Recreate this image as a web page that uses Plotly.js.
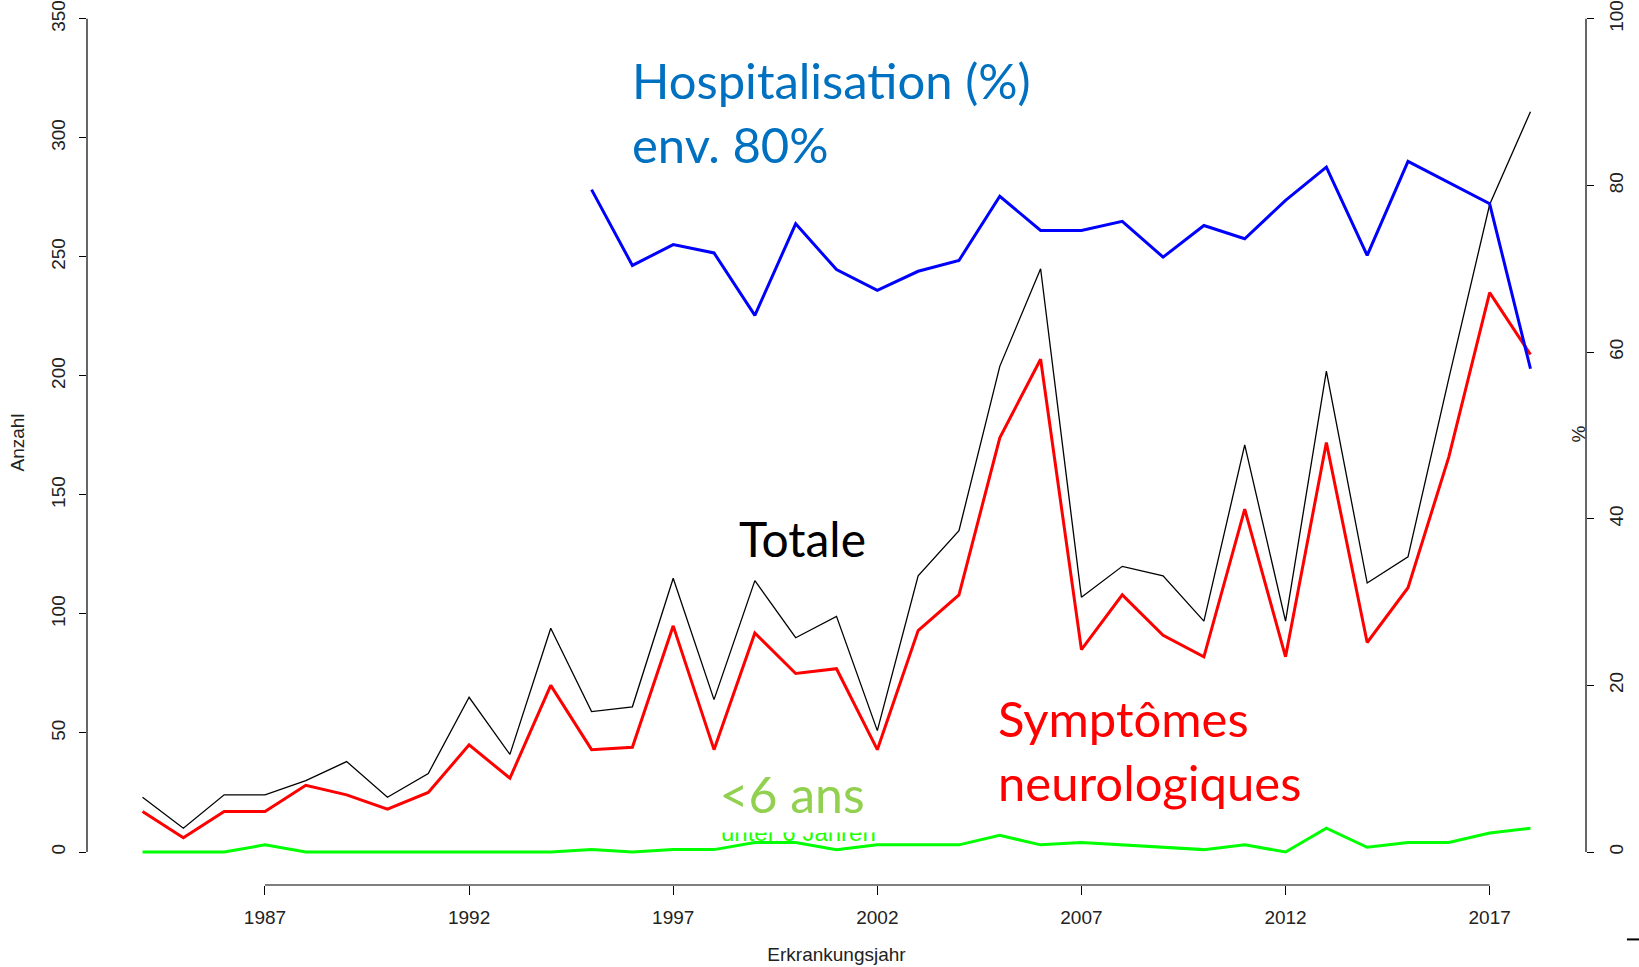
<!DOCTYPE html>
<html>
<head>
<meta charset="utf-8">
<script src="https://cdn.plot.ly/plotly-3.0.1.min.js"></script>
<style>
  html, body { margin: 0; padding: 0; background: #ffffff; }
  #chart { width: 1639px; height: 967px; }
</style>
</head>
<body>
<div id="chart"></div>
<script>
// ---- data ----
const years = [1984,1985,1986,1987,1988,1989,1990,1991,1992,1993,1994,1995,1996,1997,1998,1999,2000,2001,2002,2003,2004,2005,2006,2007,2008,2009,2010,2011,2012,2013,2014,2015,2016,2017,2018];
const totalCases = [23,10,24,24,30,38,23,33,65,41,94,59,61,115,64,114,90,99,51,116,135,204,245,107,120,116,97,171,97,202,113,124,199,272,311];
const neuroCases = [17,6,17,17,28,24,18,25,45,31,70,43,44,95,43,92,75,77,43,93,108,174,207,85,108,91,82,144,82,172,88,111,166,235,209];
const under6Cases = [0,0,0,3,0,0,0,0,0,0,0,1,0,1,1,4,4,1,3,3,3,7,3,4,3,2,1,3,0,10,2,4,4,8,10];
const hospYears = [1995,1996,1997,1998,1999,2000,2001,2002,2003,2004,2005,2006,2007,2008,2009,2010,2011,2012,2013,2014,2015,2016,2017,2018];
const hospPct = [79.5,70.4,72.9,71.9,64.4,75.4,69.9,67.4,69.7,71.0,78.7,74.6,74.6,75.7,71.4,75.2,73.6,78.2,82.2,71.6,82.9,80.4,77.8,58.0];

const xTickVals = [1987,1992,1997,2002,2007,2012,2017];
const yTickVals = [0,50,100,150,200,250,300,350];
const y2TickVals = [0,20,40,60,80,100];

// ---- styling ----
const axisFont = {family: "Liberation Sans Narrow, Arial Narrow, Liberation Sans, Arial, sans-serif", size: 19, color: "#222222"};
const bigFont = "Lato, Carlito, Calibri, 'Open Sans', sans-serif";

const traces = [
  {x: years, y: totalCases, type: "scatter", mode: "lines", name: "Totale",
   line: {color: "#000000", width: 1.3}, yaxis: "y"},
  {x: years, y: neuroCases, type: "scatter", mode: "lines", name: "Symptômes neurologiques",
   line: {color: "#ff0000", width: 3}, yaxis: "y"},
  {x: years, y: under6Cases, type: "scatter", mode: "lines", name: "<6 ans",
   line: {color: "#00ff00", width: 3}, yaxis: "y"},
  {x: hospYears, y: hospPct, type: "scatter", mode: "lines", name: "Hospitalisation (%)",
   line: {color: "#0000ff", width: 3}, yaxis: "y2"}
];

const layout = {
  width: 1639, height: 967,
  margin: {l: 87, r: 53, t: 0, b: 82, pad: 0},
  paper_bgcolor: "#ffffff", plot_bgcolor: "#ffffff",
  showlegend: false,
  xaxis: {
    range: [1982.64, 2019.36], tickvals: xTickVals, ticktext: xTickVals.map(String),
    ticks: "outside", ticklen: 9, tickwidth: 1, tickcolor: "#000000",
    ticklabelstandoff: 6,
    showgrid: false, zeroline: false, showline: false,
    tickfont: axisFont,
    title: {text: "Erkrankungsjahr", font: axisFont, standoff: 20}
  },
  yaxis: {
    range: [-13.86, 357.9], tickvals: yTickVals, ticktext: yTickVals.map(String),
    ticks: "outside", ticklen: 7, tickwidth: 1, tickcolor: "#000000",
    tickangle: -90, ticklabelstandoff: 6,
    showgrid: false, zeroline: false, showline: false,
    tickfont: axisFont,
    title: {text: "Anzahl", font: axisFont, standoff: 18}
  },
  yaxis2: {
    range: [-3.96, 102.26], tickvals: y2TickVals, ticktext: y2TickVals.map(String),
    overlaying: "y", side: "right",
    ticks: "outside", ticklen: 7, tickwidth: 1, tickcolor: "#000000",
    tickangle: -90, ticklabelstandoff: 6,
    showgrid: false, zeroline: false, showline: false,
    tickfont: axisFont
  },
  shapes: [
    {type: "line", xref: "x", yref: "paper", x0: 1987, x1: 2017, y0: 0, y1: 0,
     line: {color: "#000000", width: 1.2}},
    {type: "line", xref: "paper", yref: "y", x0: 0, x1: 0, y0: 0, y1: 350,
     line: {color: "#000000", width: 1.2}},
    {type: "line", xref: "paper", yref: "y2", x0: 1, x1: 1, y0: 0, y1: 100,
     line: {color: "#000000", width: 1.2}},
    {type: "line", xref: "paper", yref: "paper", x0: 1.0273, x1: 1.036, y0: -0.0615, y1: -0.0615,
     line: {color: "#000000", width: 2}}
  ],
  annotations: [
    {text: "%", xref: "paper", yref: "paper", x: (1578.5 - 87) / 1499, y: (885 - 434) / 885,
     xanchor: "center", yanchor: "middle", showarrow: false, textangle: -90, font: axisFont},
    {text: "Hospitalisation (%)<br>env. 80%", xref: "paper", yref: "paper",
     x: (630 - 87) / 1499, y: (885 - 112) / 885, xanchor: "left", yanchor: "middle", align: "left",
     showarrow: false, font: {family: bigFont, size: 49, color: "#0070c0"}},
    {text: "Totale", xref: "paper", yref: "paper",
     x: (737 - 87) / 1499, y: (885 - 538) / 885, xanchor: "left", yanchor: "middle",
     showarrow: false, font: {family: bigFont, size: 48, color: "#000000"}},
    {text: "Symptômes<br>neurologiques", xref: "paper", yref: "paper",
     x: (996 - 87) / 1499, y: (885 - 750) / 885, xanchor: "left", yanchor: "middle", align: "left",
     showarrow: false, font: {family: bigFont, size: 49, color: "#ff0000"}},
    {text: "unter 6 Jahren", xref: "paper", yref: "paper",
     x: (719 - 87) / 1499, y: (885 - 832) / 885, xanchor: "left", yanchor: "middle",
     showarrow: false, font: {family: "Liberation Sans Narrow, Arial Narrow, Liberation Sans, sans-serif", size: 24, color: "#22ff00"}},
    {text: "<6 ans", xref: "paper", yref: "paper",
     x: (792 - 87) / 1499, y: (885 - 794) / 885, xanchor: "center", yanchor: "middle",
     width: 170, height: 76, bgcolor: "#ffffff", borderpad: 0,
     showarrow: false, font: {family: bigFont, size: 50, color: "#92d050"}}
  ]
};

Plotly.newPlot("chart", traces, layout, {displayModeBar: false, staticPlot: true});
</script>
</body>
</html>
